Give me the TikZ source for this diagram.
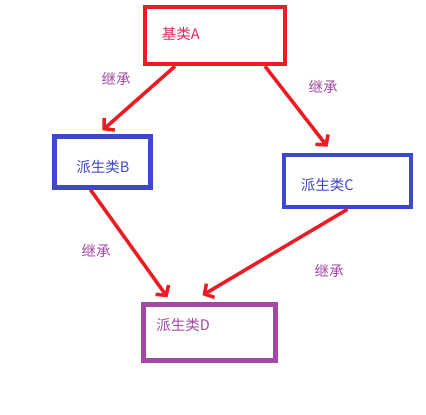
\documentclass[tikz,border=0pt]{standalone}
\usepackage{fontspec}
\newfontfamily\cjk{Noto Sans CJK SC}
\usetikzlibrary{arrows.meta, calc}
\definecolor{paintred}{HTML}{ED1C24}
\definecolor{paintblue}{HTML}{3F48CC}
\definecolor{paintpurple}{HTML}{A349A4}
\definecolor{textred}{HTML}{E2245A}
\tikzset{
  box/.style={draw, line width=4.5pt, inner sep=0pt},
  txt/.style={font=\cjk\fontsize{14.5}{16}\selectfont, anchor=west, inner sep=0pt},
  inherit/.style={font=\cjk\fontsize{14.5}{16}\selectfont, text=paintpurple, inner sep=0pt},
  arr/.style={draw=paintred, line width=3.5pt, -{Straight Barb[length=7pt, width=16pt]}}
}

\begin{document}
\begin{tikzpicture}[x=1pt, y=-1pt]
    \useasboundingbox[fill=white] (0,0) rectangle (426,415);
    \node[box, draw=paintred, minimum width=140pt, minimum height=57pt] (baseA) at (215, 35.5) {};
    \node[box, draw=paintblue, minimum width=96pt, minimum height=51pt] (derivB) at (102.5, 162) {};
    \node[box, draw=paintblue, minimum width=127pt, minimum height=52pt] (derivC) at (347.5, 181) {};
    \node[box, draw=paintpurple, minimum width=132pt, minimum height=56pt] (derivD) at (209.5, 332.5) {};
    \node[txt, text=textred] at ($(baseA.west) + (19, -2)$) {基类A};
    \node[txt, text=paintblue] at ($(derivB.west) + (24, 5)$) {派生类B};
    \node[txt, text=paintblue] at ($(derivC.west) + (19, 4)$) {派生类C};
    \node[txt, text=paintpurple] at ($(derivD.west) + (15, -7)$) {派生类D};
    \draw[arr] ($(baseA.south) + (-40, 0)$) -- ($(derivB.north) + (0, -4)$);
    \draw[arr] ($(baseA.south) + (50, 0)$) -- ($(derivC.north) + (-20, -6)$);
    \draw[arr] ($(derivB.south) + (-12, 0)$) -- ($(derivD.north) + (-42, -5)$);
    \draw[arr] ($(derivC.south) + (0, 0)$) -- ($(derivD.north) + (-7, -7)$);
    \node[inherit] (inhAB) at (116, 79) {继承};
    \node[inherit] (inhAC) at (323, 87) {继承};
    \node[inherit] (inhBD) at (96, 251) {继承};
    \node[inherit] (inhCD) at (329, 271) {继承};
  \end{tikzpicture}
\end{document}
